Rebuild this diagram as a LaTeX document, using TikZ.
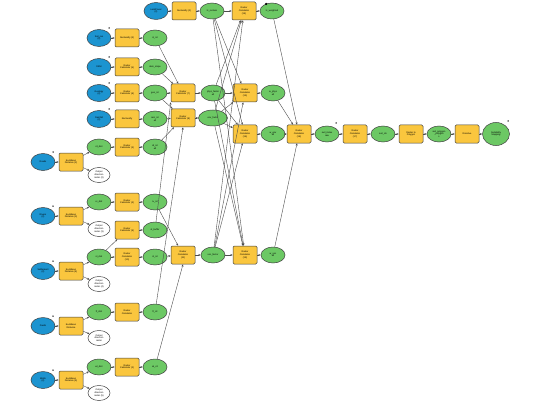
\documentclass[tikz,border=0pt]{standalone}
\usepackage{fontspec}
\setsansfont{Liberation Sans}
\usetikzlibrary{arrows.meta,positioning,shapes.geometric}
\definecolor{inblue}{RGB}{28,148,208}
\definecolor{toolyel}{RGB}{250,198,62}
\definecolor{outgrn}{RGB}{108,200,100}

\begin{document}
\begin{tikzpicture}[x=1pt,y=-1pt,>={Stealth[length=2.4pt,width=2pt]},node distance=28pt,on grid,
  lbl/.style={font=\sffamily\fontsize{2.3}{2.6}\selectfont,align=center,inner sep=0.3pt,line width=0.5pt},
  inp/.style={lbl,ellipse,draw=black!75,fill=inblue,minimum width=24pt,minimum height=17pt},
  tool/.style={lbl,draw=black!75,fill=toolyel,rounded corners=1.3pt,minimum width=24pt,minimum height=18pt},
  outp/.style={lbl,ellipse,draw=black!75,fill=outgrn,minimum width=24pt,minimum height=16pt},
  side/.style={lbl,ellipse,draw=black!75,fill=white,minimum width=22pt,minimum height=15pt},
  flow/.style={->,draw=black!70,line width=0.4pt},
  pdot/.style={circle,fill=black,inner sep=0pt,minimum size=1.5pt}]
\useasboundingbox (0,0) rectangle (534,406);

% top row
\node[inp] (tb) at (156,11) {LandCover\\(2)};
\node[tool,right=of tb] (tt) {Reclassify (2)};
\node[outp,right=of tt] (m1) {lc\_reclass};
\node[tool,right=32pt of m1] (y1) {Raster\\Calculator\\(14)};
\node[outp,right=of y1] (g1) {lc\_weighted};

% simple input rows
\node[inp] (b2) at (99,38) {Soil\_ras\\(2)};
\node[tool,right=of b2] (t2) {Reclassify (3)};
\node[outp,right=of t2] (o2) {sl\_rcl};
\node[inp] (b3) at (99,67) {DEM};
\node[tool,right=of b3] (t3) {Raster\\Calculator (5)};
\node[outp,right=of t3] (o3) {dem\_slope};
\node[inp] (b4) at (99,93) {Geology\\(2)};
\node[tool,right=of b4] (t4) {Raster\\Calculator (6)};
\node[outp,right=of t4] (o4) {geo\_rcl};
\node[inp] (b5) at (99,119) {Rainfall\\(2)};
\node[tool,right=of b5] (t5) {Reclassify};
\node[outp,right=of t5] (o5) {rain\_rcl\\all};

% distance groups
\node[inp] (eb1) at (43,162) {Roads};
\node[tool,right=of eb1] (et1) {Euclidean\\Distance (2)};
\node[outp] (eo1) at (99,147) {rd\_dist};
\node[side] (ew1) at (99,175) {Output\\direction\\raster (2)};
\node[tool,right=of eo1] (t6) {Raster\\Calculator (3)};
\node[outp,right=of t6] (o6) {rd\_rcl\\all};

\node[inp] (eb2) at (43,216) {Rivers\\(2)};
\node[tool,right=of eb2] (et2) {Euclidean\\Distance (3)};
\node[outp] (eo2) at (99,202) {rv\_dist};
\node[side] (ew2) at (99,229) {Output\\direction\\raster (3)};
\node[tool,right=of eo2] (t7) {Raster\\Calculator (4)};
\node[outp,right=of t7] (o7) {rv\_rcl};
\node[tool] (t8) at (127,230) {Raster\\Calculator (9)};
\node[outp,right=of t8] (o8) {st\_buffer};

\node[inp] (eb3) at (43,271) {Settlement\\(2)};
\node[tool,right=of eb3] (et3) {Euclidean\\Distance (4)};
\node[outp] (eo3) at (99,257) {st\_dist};
\node[side] (ew3) at (99,284) {Output\\direction\\raster (4)};
\node[tool,right=of eo3] (t9) {Raster\\Calculator\\(10)};
\node[outp,right=of t9] (o9) {st\_rcl};

\node[inp] (eb4) at (43,326) {Faults};
\node[tool,right=of eb4] (et4) {Euclidean\\Distance};
\node[outp] (eo4) at (99,312) {ft\_dist};
\node[side] (ew4) at (99,338) {Output\\direction\\raster};
\node[tool,right=of eo4] (t10) {Raster\\Calculator};
\node[outp,right=of t10] (o10) {ft\_rcl};

\node[inp] (eb5) at (43,380) {Wells\\(2)};
\node[tool,right=of eb5] (et5) {Euclidean\\Distance (5)};
\node[outp] (eo5) at (99,367) {wl\_dist};
\node[side] (ew5) at (99,393) {Output\\direction\\raster (5)};
\node[tool,right=of eo5] (t11) {Raster\\Calculator (2)};
\node[outp,right=of t11] (o11) {wl\_rcl};

% combining tools
\node[tool] (c7) at (183,93) {Raster\\Calculator (7)};
\node[outp,right=30pt of c7] (m2) {phys\_factor\\all};
\node[tool] (c8) at (183,118) {Raster\\Calculator (8)};
\node[outp,right=30pt of c8,minimum width=29pt] (m3) {env\_factor};
\node[tool] (c11) at (183,255) {Raster\\Calculator\\(11)};
\node[outp,right=30pt of c11] (m4) {soc\_factor};

\node[tool] (y2) at (245,93) {Raster\\Calculator\\(15)};
\node[outp,right=of y2] (g2) {w\_phys\\all};
\node[tool] (y3) at (245,134) {Raster\\Calculator\\(16)};
\node[outp,right=of y3] (g3) {w\_env\\all};
\node[tool] (y4) at (245,255) {Raster\\Calculator\\(19)};
\node[outp,right=of y4] (g4) {w\_soc\\all};

% final chain
\node[tool] (r18) at (299,134) {Raster\\Calculator\\(18)};
\node[outp,right=of r18] (s1) {suit\_index\\raw};
\node[tool,right=of s1] (r17) {Raster\\Calculator\\(17)};
\node[outp,right=of r17] (s2) {suit\_cls};
\node[tool,right=of s2] (rp) {Raster to\\Polygon};
\node[outp,right=of rp] (s3) {suit\_polygon\\\_polygon\\s};
\node[tool,right=of s3] (ds) {Dissolve};
\node[outp,right=29pt of ds,minimum width=27pt,minimum height=23pt] (fin) {Suitability\\Mapping};

% parameter marks
\node[pdot] at ([shift={(10pt,10pt)}]b2.center) {};
\node[pdot] at ([shift={(10pt,10pt)}]b3.center) {};
\node[pdot] at ([shift={(10pt,10pt)}]b4.center) {};
\node[pdot] at ([shift={(10pt,10pt)}]b5.center) {};
\node[pdot] at ([shift={(10pt,10pt)}]eb1.center) {};
\node[pdot] at ([shift={(10pt,10pt)}]eb2.center) {};
\node[pdot] at ([shift={(10pt,10pt)}]eb3.center) {};
\node[pdot] at ([shift={(10pt,10pt)}]eb4.center) {};
\node[pdot] at ([shift={(10pt,10pt)}]eb5.center) {};
\node[pdot] at ([shift={(9pt,11pt)}]s1.center) {};
\node[pdot] at ([shift={(12pt,13pt)}]fin.center) {};
\node[pdot,minimum size=2.5pt] at ([shift={(-6pt,7pt)}]g1.center) {};

% row flows
\draw[flow] (tb) -- (tt); \draw[flow] (tt) -- (m1); \draw[flow] (y1) -- (g1);
\draw[flow] (b2) -- (t2); \draw[flow] (t2) -- (o2);
\draw[flow] (b3) -- (t3); \draw[flow] (t3) -- (o3);
\draw[flow] (b4) -- (t4); \draw[flow] (t4) -- (o4);
\draw[flow] (b5) -- (t5); \draw[flow] (t5) -- (o5);
\draw[flow] (eb1) -- (et1); \draw[flow] (et1) -- (eo1); \draw[flow] (et1) -- (ew1);
\draw[flow] (eo1) -- (t6); \draw[flow] (t6) -- (o6);
\draw[flow] (eb2) -- (et2); \draw[flow] (et2) -- (eo2); \draw[flow] (et2) -- (ew2);
\draw[flow] (eo2) -- (t7); \draw[flow] (t7) -- (o7);
\draw[flow] (eb3) -- (et3); \draw[flow] (et3) -- (eo3); \draw[flow] (et3) -- (ew3);
\draw[flow] (eo3) -- (t9); \draw[flow] (t9) -- (o9);
\draw[flow] (eo3) -- (t8); \draw[flow] (t8) -- (o8);
\draw[flow] (eb4) -- (et4); \draw[flow] (et4) -- (eo4); \draw[flow] (et4) -- (ew4);
\draw[flow] (eo4) -- (t10); \draw[flow] (t10) -- (o10);
\draw[flow] (eb5) -- (et5); \draw[flow] (et5) -- (eo5); \draw[flow] (et5) -- (ew5);
\draw[flow] (eo5) -- (t11); \draw[flow] (t11) -- (o11);

% into the combining tools
\draw[flow] (o2) -- (c7); \draw[flow] (o3) -- (c7); \draw[flow] (o4) -- (c7);
\draw[flow] (o8) -- (c7.south west);
\draw[flow] (o4) -- (c8); \draw[flow] (o5) -- (c8); \draw[flow] (o6) -- (c8);
\draw[flow] (o10) -- (c8.south);
\draw[flow] (o7) -- (c11); \draw[flow] (o9) -- (c11); \draw[flow] (o11) -- (c11.south);
\draw[flow] (c7) -- (m2); \draw[flow] (c8) -- (m3); \draw[flow] (c11) -- (m4);

% weighting
\foreach \s in {m1,m2,m3,m4}
  \foreach \t in {y1,y2,y3,y4}
    \draw[flow] (\s) -- (\t);
\draw[flow] (y2) -- (g2); \draw[flow] (y3) -- (g3); \draw[flow] (y4) -- (g4);

% overlay and output
\draw[flow] (g1) -- (r18); \draw[flow] (g2) -- (r18);
\draw[flow] (g3) -- (r18); \draw[flow] (g4) -- (r18);
\draw[flow] (r18) -- (s1); \draw[flow] (s1) -- (r17); \draw[flow] (r17) -- (s2);
\draw[flow] (s2) -- (rp); \draw[flow] (rp) -- (s3); \draw[flow] (s3) -- (ds);
\draw[flow] (ds) -- (fin);
\end{tikzpicture}
\end{document}
